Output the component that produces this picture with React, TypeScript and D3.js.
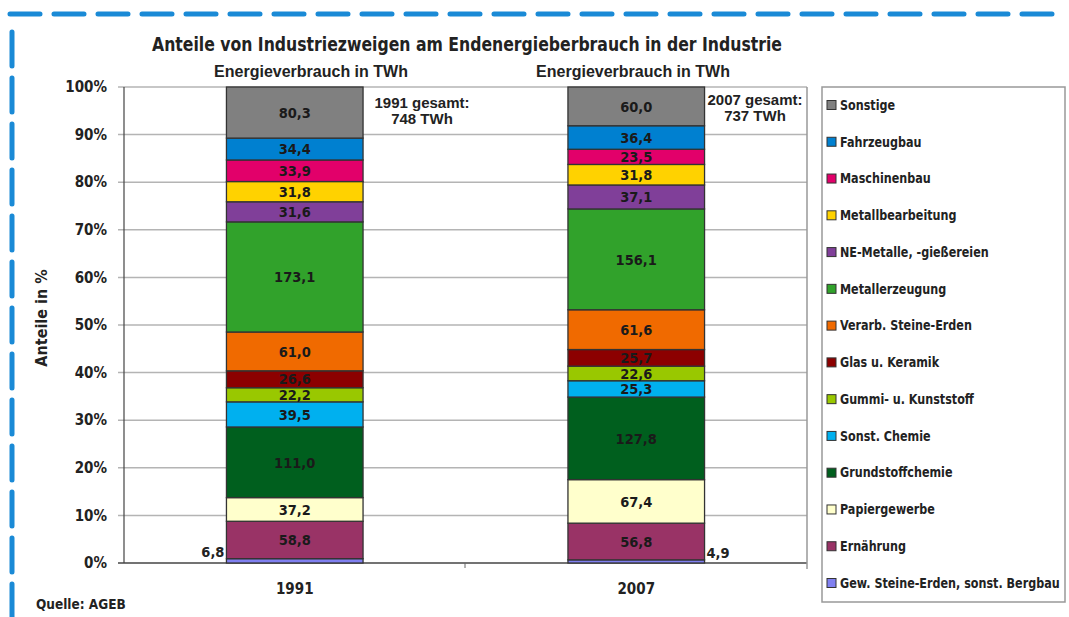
import React from "react";
import * as d3 from "d3";

const categories = [
  "Gew. Steine-Erden, sonst. Bergbau",
  "Ernährung",
  "Papiergewerbe",
  "Grundstoffchemie",
  "Sonst. Chemie",
  "Gummi- u. Kunststoff",
  "Glas u. Keramik",
  "Verarb. Steine-Erden",
  "Metallerzeugung",
  "NE-Metalle, -gießereien",
  "Metallbearbeitung",
  "Maschinenbau",
  "Fahrzeugbau",
  "Sonstige",
];
const colors = [
  "#8080f0", "#993366", "#ffffcc", "#005f1e", "#00b0ef", "#99c800", "#8c0000",
  "#f06a00", "#31a22b", "#803f99", "#ffd200", "#e2006a", "#0080d0", "#808080",
];
const years = ["1991", "2007"];
const values1991 = [6.8, 58.8, 37.2, 111.0, 39.5, 22.2, 26.6, 61.0, 173.1, 31.6, 31.8, 33.9, 34.4, 80.3];
const values2007 = [4.9, 56.8, 67.4, 127.8, 25.3, 22.6, 25.7, 61.6, 156.1, 37.1, 31.8, 23.5, 36.4, 60.0];
const totalLabels = ["748 TWh", "737 TWh"];
const yTicks = [0, 0.1, 0.2, 0.3, 0.4, 0.5, 0.6, 0.7, 0.8, 0.9, 1.0];

const W = 1069, H = 617;
const plot = { left: 124, right: 807, top: 87, bottom: 563 };
const COND = "'DejaVu Sans Condensed', 'DejaVu Sans', sans-serif";
const ARIAL = "'Liberation Sans', Arial, sans-serif";
const condStyle: React.CSSProperties = { fontStretch: "condensed" };

const fmt = (v: number) => v.toFixed(1).replace(".", ",");

export default function App() {
  const seriesValues = [values1991, values2007];
  const rows = years.map((y, i) => {
    const r: any = { year: y };
    categories.forEach((c, j) => (r[c] = seriesValues[i][j]));
    return r;
  });
  const stack = d3.stack<any>().keys(categories).offset(d3.stackOffsetExpand);
  const series = stack(rows);

  const x = d3.scaleBand().domain(years).range([plot.left, plot.right]).paddingInner(0.6).paddingOuter(0.3);
  const y = d3.scaleLinear().domain([0, 1]).range([plot.bottom, plot.top]);
  const bw = x.bandwidth();

  const blue = "#1a8ad6";

  const legendTop = 105;
  const legendStep = (583 - 105) / 13;
  const subX = [311, 633];

  return (
    <svg width={W} height={H} style={{ position: "absolute", left: 0, top: 0, background: "#fff" }}>
      <rect x={0} y={0} width={W} height={H} fill="#fff" />
      <line x1={10} y1={14} x2={1060} y2={14} stroke={blue} strokeWidth={5} strokeDasharray="30 14" strokeLinecap="round" />
      <line x1={12} y1={32} x2={12} y2={617} stroke={blue} strokeWidth={5} strokeDasharray="34 12" strokeLinecap="round" />

      <text x={152} y={51} textLength={630} lengthAdjust="spacingAndGlyphs" fontFamily={COND} style={condStyle} fontWeight="bold" fontSize={19.5} fill="#222">
        Anteile von Industriezweigen am Endenergieberbrauch  in der Industrie
      </text>
      {years.map((yr, i) => (
        <text key={"sub" + yr} x={subX[i]} y={77} textAnchor="middle"
          fontFamily={ARIAL} fontWeight="bold" fontSize={16} fill="#222">
          Energieverbrauch in TWh
        </text>
      ))}

      {/* gridlines */}
      {yTicks.map((t) => (
        <g key={"g" + t}>
          <line x1={plot.left - 6} x2={plot.right} y1={y(t)} y2={y(t)} stroke={t === 0 ? "#444" : "#b4b4b4"} strokeWidth={1.5} />
          <text x={107} y={y(t)} dy="0.35em" textAnchor="end" fontFamily={COND} style={condStyle} fontWeight="bold" fontSize={15} fill="#222">
            {Math.round(t * 100)}%
          </text>
        </g>
      ))}
      <line x1={plot.left} x2={plot.left} y1={plot.top} y2={plot.bottom} stroke="#444" strokeWidth={1.2} />
      <line x1={plot.right} x2={plot.right} y1={plot.top} y2={plot.bottom + 6} stroke="#999" strokeWidth={1.5} />
      <line x1={465} x2={465} y1={plot.bottom} y2={plot.bottom + 5} stroke="#666" strokeWidth={1} />

      <text transform={`translate(47,${318}) rotate(-90)`} textAnchor="middle" fontFamily={COND} style={condStyle} fontWeight="bold" fontSize={16} fill="#222">
        Anteile in %
      </text>

      {/* bars */}
      {series.map((s, si) => (
        <g key={"s" + si}>
          {s.map((d: any, di: number) => (
            <rect key={di} x={x(years[di]) as number} y={y(d[1])} width={bw} height={y(d[0]) - y(d[1])}
              fill={colors[si]} stroke="#333" strokeWidth={1.3} />
          ))}
        </g>
      ))}
      {series.map((s, si) =>
        s.map((d: any, di: number) => {
          const frac = d[1] - d[0];
          const v = seriesValues[di][si];
          const bx = x(years[di]) as number;
          if (frac < 0.015) {
            const left = di === 0;
            return (
              <text key={"l" + si + di} x={left ? bx - 2 : bx + bw + 2} y={y(d[1]) - 7} dy="0.35em"
                textAnchor={left ? "end" : "start"} fontFamily={COND} style={condStyle} fontWeight="bold" fontSize={14.5} fill="#222">
                {fmt(v)}
              </text>
            );
          }
          return (
            <text key={"l" + si + di} x={bx + bw / 2} y={(y(d[0]) + y(d[1])) / 2} dy="0.36em" textAnchor="middle"
              fontFamily={COND} style={condStyle} fontWeight="bold" fontSize={14.5} fill="#1a1a1a">
              {fmt(v)}
            </text>
          );
        })
      )}

      {/* totals */}
      {years.map((yr, i) => {
        const cx = i === 0 ? 422 : 755;
        const ty = i === 0 ? 108 : 105;
        return (
          <g key={"t" + yr}>
            <text x={cx} y={ty} textAnchor="middle" fontFamily={ARIAL} fontWeight="bold" fontSize={15} fill="#222">
              {yr} gesamt:
            </text>
            <text x={cx} y={ty + 16} textAnchor="middle" fontFamily={ARIAL} fontWeight="bold" fontSize={15} fill="#222">
              {totalLabels[i]}
            </text>
          </g>
        );
      })}

      {/* x labels */}
      {years.map((yr) => (
        <text key={"x" + yr} x={(x(yr) as number) + bw / 2} y={594} textAnchor="middle" fontFamily={COND} style={condStyle} fontWeight="bold" fontSize={15} fill="#222">
          {yr}
        </text>
      ))}

      {/* legend */}
      <rect x={822} y={87} width={243} height={515} fill="#fff" stroke="#999" strokeWidth={1.5} />
      {categories.slice().reverse().map((c, i) => {
        const ci = categories.length - 1 - i;
        const cy = legendTop + i * legendStep;
        return (
          <g key={"lg" + c}>
            <rect x={827} y={cy - 4.5} width={9} height={9} fill={colors[ci]} stroke="#333" strokeWidth={1} />
            <g transform={`translate(840,${cy}) scale(0.92,1)`}>
              <text x={0} y={0} dy="0.35em" fontFamily={COND} style={condStyle} fontWeight="bold" fontSize={13.5} fill="#222">
                {c}
              </text>
            </g>
          </g>
        );
      })}

      <text x={36} y={609} fontFamily={COND} style={condStyle} fontWeight="bold" fontSize={13.5} fill="#222">
        Quelle: AGEB
      </text>
    </svg>
  );
}
